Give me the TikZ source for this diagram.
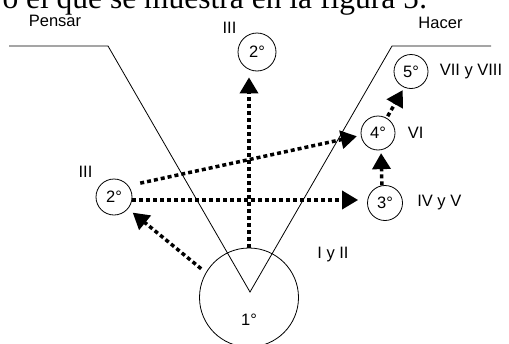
\documentclass[tikz,border=0pt]{standalone}
\usepackage{fontspec}
\setmainfont{Liberation Sans}
\newfontfamily\bodyserif{Liberation Serif}
\usetikzlibrary{arrows.meta,positioning}

\begin{document}
\begin{tikzpicture}[x=1pt, y=-1pt, line width=0.8pt,
        font=\fontsize{16.5}{19}\selectfont, node distance=12pt,
        stage/.style={draw, circle, inner sep=0pt, line width=0.8pt},
        tag/.style={inner sep=0pt},
        dotarrow/.style={line width=3.5pt, dash pattern=on 4pt off 3pt,
            -{Triangle[length=16pt,width=18pt]}}]
        \useasboundingbox (0,0) rectangle (509,343);
        \clip (0,0) rectangle (509,343);

        % Text cut at the top
        \node[tag, anchor=base east, text depth=0pt, font=\bodyserif\fontsize{31.5}{36}\selectfont] (intro) at (428,8) {o el que se muestra en la figura 5:};

        % V outline
        \coordinate (farleft) at (9,46);
        \coordinate (leftedge) at (108,46);
        \coordinate (bottom) at (250,292);
        \coordinate (rightedge) at (392,46);
        \coordinate (farright) at (491,46);
        \draw (farleft) -- (leftedge) -- (bottom) -- (rightedge) -- (farright);

        \node[tag] (pensar) at (55,20.5) {Pensar};
        \node[tag] (hacer) at (440.5,23) {Hacer};

        % Nodes
        \node[stage, minimum size=99pt] (one) at (249,297.5) {};
        \node[tag] (onelbl) at (249,320) {1°};
        \node[stage, minimum size=38pt] (twotop) at (257,52) {2°};
        \node[stage, minimum size=36pt] (twoleft) at (114,197) {2°};
        \node[stage, minimum size=35pt] (three) at (385,203) {3°};
        \node[stage, minimum size=34pt] (four) at (378,133) {4°};
        \node[stage, minimum size=34pt] (five) at (411,71.5) {5°};

        \node[tag] (lbltop) at (229.5,28) {III};
        \node[tag] (lblleft) at (85.5,172) {III};
        \node[tag, right=14pt of three] (lblthree) {IV y V};
        \node[tag, right=12pt of four] (lblfour) {VI};
        \node[tag, right=11pt of five] (lblfive) {VII y VIII};
        \node[tag] (lblone) at (333,255) {I y II};

        % Edges
        \draw[dotarrow, shorten >=6pt] (one.north) -- (one.north |- twotop.south);
        \draw[dotarrow, shorten >=9pt] ([yshift=-3pt]twoleft.east) -- ([yshift=-3pt]twoleft.east -| three.west);
        \draw[dotarrow, shorten <=12pt, shorten >=4pt] (twoleft.38) -- (four.188);
        \draw[dotarrow, shorten <=6pt, shorten >=6pt] (one.150) -- (twoleft.-40);
        \draw[dotarrow, shorten >=3pt] (three.100) -- (four.-80);
        \draw[dotarrow, shorten <=2pt, shorten >=3pt] (four.60) -- (five.247);
\end{tikzpicture}
\end{document}
